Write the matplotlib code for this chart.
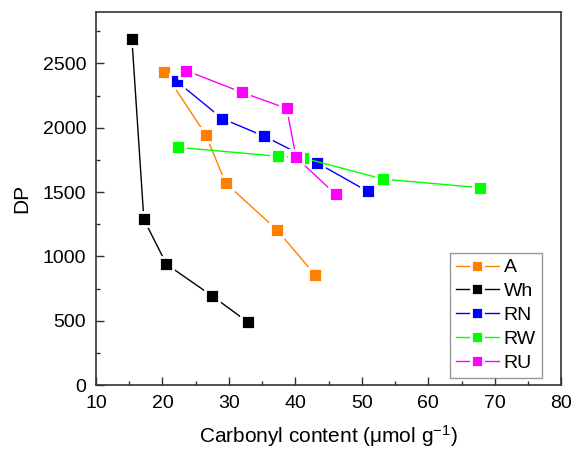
import matplotlib
matplotlib.use("Agg")
import matplotlib.pyplot as plt
from matplotlib.ticker import MultipleLocator

plt.rcParams['font.family'] = ['Liberation Sans', 'DejaVu Sans']
plt.rcParams['mathtext.fontset'] = 'custom'
plt.rcParams['mathtext.rm'] = 'Liberation Sans'
plt.rcParams['mathtext.it'] = 'Liberation Sans'

series_names = ["A", "Wh", "RN", "RW", "RU"]
colors = ["#FF8000", "#000000", "#0000FF", "#00FF00", "#FF00FF"]

A_x = [20.3, 26.5, 29.5, 37.2, 43.0]
A_y = [2432, 1947, 1570, 1207, 854]
Wh_x = [15.4, 17.2, 20.6, 27.4, 32.8]
Wh_y = [2689, 1287, 939, 695, 491]
RN_x = [22.15, 29.0, 35.3, 43.2, 50.9]
RN_y = [2360, 2071, 1934, 1729, 1505]
RW_x = [22.3, 37.4, 41.2, 53.2, 67.8]
RW_y = [1848, 1778, 1765, 1601, 1534]
RU_x = [23.55, 31.9, 38.7, 40.1, 46.05]
RU_y = [2445, 2276, 2150, 1770, 1482]

xs = [A_x, Wh_x, RN_x, RW_x, RU_x]
ys = [A_y, Wh_y, RN_y, RW_y, RU_y]

fig = plt.figure(figsize=(5.75, 4.5), dpi=100)
ax = fig.add_axes([0.167, 0.1444, 0.809, 0.829])

for name, c, x, y in zip(series_names, colors, xs, ys):
    ax.plot(x, y, '-', color=c, lw=1.0, marker='s', markersize=9.5,
            markerfacecolor=c, markeredgecolor='white', markeredgewidth=2.0,
            label=name)

ax.set_xlim(10, 80)
ax.set_ylim(0, 2900)
ax.xaxis.set_major_locator(MultipleLocator(10))
ax.xaxis.set_minor_locator(MultipleLocator(5))
ax.yaxis.set_major_locator(MultipleLocator(500))
ax.yaxis.set_minor_locator(MultipleLocator(250))
ax.tick_params(which='both', direction='in', top=False, right=False,
               colors='#333333', labelcolor='black', labelsize=14)
ax.tick_params(axis='x', which='major', pad=7)
ax.tick_params(axis='y', which='major', pad=7)
ax.tick_params(which='major', length=6, width=1.0)
ax.tick_params(which='minor', length=3, width=1.0)
for s in ax.spines.values():
    s.set_color('#333333')
    s.set_linewidth(1.2)

ax.set_xlabel("Carbonyl content (\u03bcmol g$^{-1}$)", fontsize=15, labelpad=8)
ax.set_ylabel("DP", fontsize=15, labelpad=8)

leg = ax.legend(loc='lower right', bbox_to_anchor=(0.958, 0.02), fontsize=14,
                frameon=True, fancybox=False, edgecolor='#808080',
                handlelength=2.2, handletextpad=0.25, borderpad=0.3,
                labelspacing=0.32, borderaxespad=0.0)
leg.get_frame().set_linewidth(1.0)
for h in leg.get_lines():
    h.set_markersize(9)
    h.set_markeredgewidth(2.0)

fig.savefig("out.png", dpi=100)
